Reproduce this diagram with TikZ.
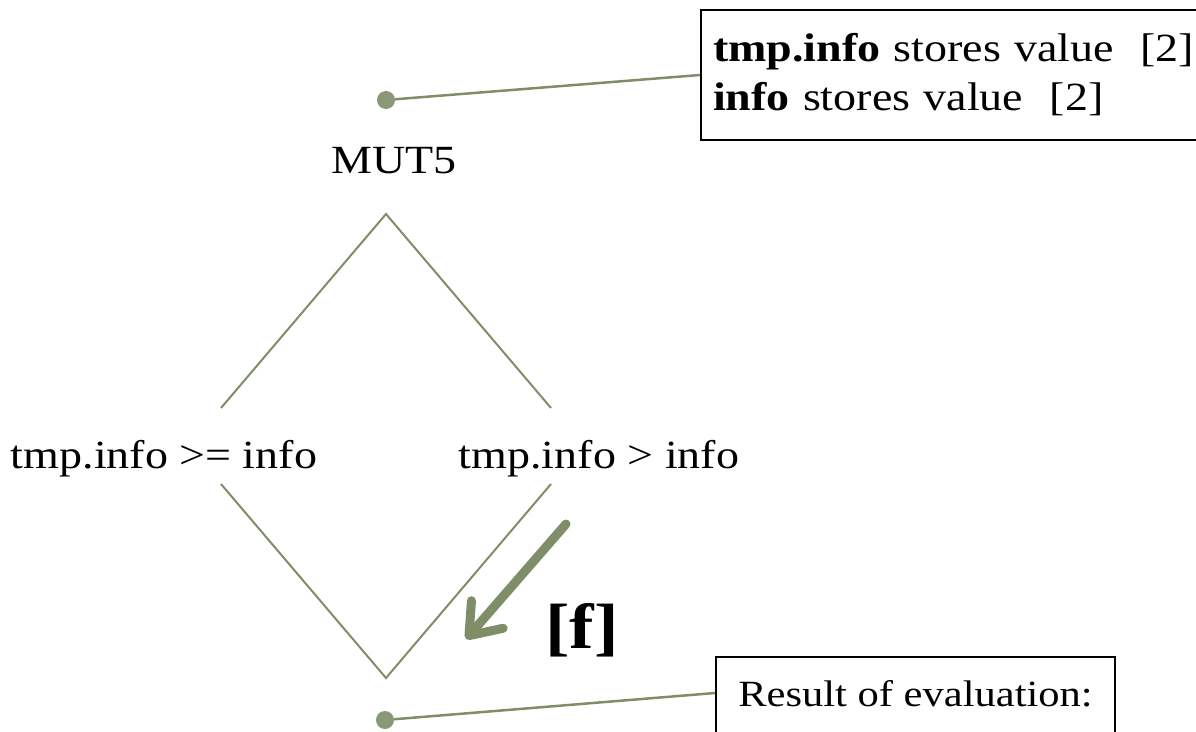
\documentclass[tikz,border=0pt]{standalone}
\usepackage{fontspec}
\setmainfont{Liberation Serif}[FakeStretch=1.15]
\usetikzlibrary{arrows.meta}
\definecolor{sage}{HTML}{7F8E69}
\definecolor{sagedot}{HTML}{8A9878}
\begin{document}
\begin{tikzpicture}[x=1pt,y=-1pt,
  font=\fontsize{40}{49}\selectfont,
  link/.style={draw=sage, line width=2.5pt},
  branch/.style={draw=sage, line width=2pt},
  dot/.style={circle, fill=sagedot, inner sep=0pt, minimum size=18pt},
  notebox/.style={draw=black, line width=2pt, align=left},
  cond/.style={anchor=base, inner sep=0pt},
  flow/.style={draw=sage, line width=9pt, line cap=round,
    -{Straight Barb[length=28pt,width=42pt,round]}}]
\clip (0,0) rectangle (1196,731);

% mutant label with its annotation
\node[dot] (top) at (386,100) {};
\node[cond] (mut) at (394,173) {MUT5};
\node[notebox, anchor=north west, minimum height=130pt,
      text width=500pt, inner xsep=12pt] (note) at (700,9)
  {\textbf{tmp.info} stores value~~[2]\\\textbf{info} stores value~~[2]};
\draw[link] (top) -- (note.west);

% the two conditions
\node[cond] (ge) at (164,468) {tmp.info >= info};
\node[cond] (gt) at (599,468) {tmp.info > info};

% diamond branches
\coordinate (apex) at (386,214);
\coordinate (geup) at (221,408);
\coordinate (gtup) at (551,408);
\coordinate (gedn) at (221,484);
\coordinate (gtdn) at (551,484);
\coordinate (join) at (386,678);
\draw[branch] (geup) -- (apex) -- (gtup);
\draw[branch] (gedn) -- (join) -- (gtdn);

% evaluation result
\node[dot] (bottom) at (385,720) {};
\node[notebox, anchor=north west, minimum width=399pt,
      font=\fontsize{37}{45}\selectfont,
      inner ysep=0pt, text height=49pt, text depth=60pt] (result) at (715,656)
  {Result of evaluation:};
\draw[link] (bottom) -- ([yshift=-37pt]result.north west);

% false branch taken
\coordinate (tail) at (566,524);
\coordinate (tip) at (466,639);
\draw[flow] (tail) -- (tip);
\node[font=\fontsize{64}{76}\selectfont\bfseries] (flag) at (582,630) {[f]};
\end{tikzpicture}
\end{document}
